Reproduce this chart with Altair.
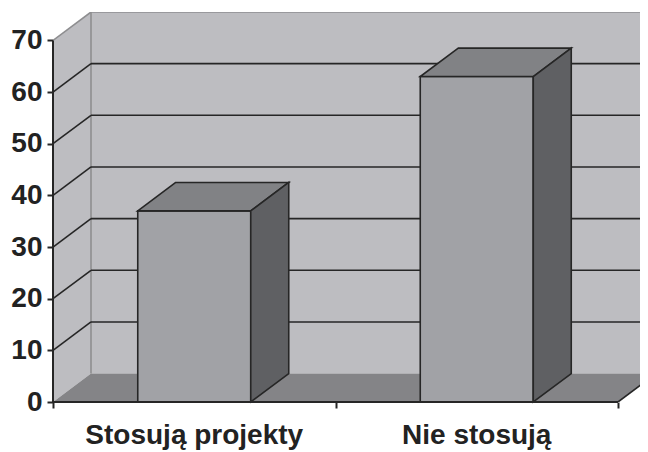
import altair as alt
import pandas as pd

# ---- data ----
categories = ["Stosują projekty", "Nie stosują"]
values = [37, 63]
y_ticks = [0, 10, 20, 30, 40, 50, 60, 70]

# ---- geometry (layout constants) ----
W, H = 587, 390
PX_PER_CAT = 282.5
DX = 38 / PX_PER_CAT          # depth offset in x units
DY = 5.5                      # depth offset in y units
YMAX = 70
XMAX = W / PX_PER_CAT
Y_TOP = YMAX + DY
BAR_L, BAR_R = 0.3, 0.7

WALL = "#bdbdc1"
FLOOR = "#848487"
FRONT = "#a1a2a6"
TOP = "#818285"
SIDE = "#5f6063"
EDGE = "#262626"
RIM = "#8e8e90"
FONT = "Liberation Sans"

xs = alt.Scale(domain=[0, XMAX], nice=False, zero=False)
ys = alt.Scale(domain=[0, Y_TOP], nice=False, zero=False)

X_AXIS = alt.Axis(values=[0, 1, 2], labels=False, domain=False, grid=False,
                  tickSize=6, tickColor=EDGE, tickWidth=2, title=None)
Y_AXIS = alt.Axis(values=y_ticks, domain=False, grid=False, tickSize=6,
                  tickColor=EDGE, tickWidth=2, title=None,
                  labelFont=FONT, labelFontSize=28, labelFontWeight="bold",
                  labelColor="#222222", labelPadding=5)

def X(f):
    return alt.X(f, type="quantitative", scale=xs, axis=X_AXIS, title=None)

def Y(f):
    return alt.Y(f, type="quantitative", scale=ys, axis=Y_AXIS, stack=None, title=None)

# back wall
back = alt.Chart(pd.DataFrame({"x": [DX], "x2": [XMAX + 1], "y": [DY], "y2": [Y_TOP]})).mark_rect(
    fill=WALL, clip=True).encode(x=X("x"), x2="x2", y=Y("y"), y2="y2")

# left wall
left = alt.Chart(pd.DataFrame({"x": [0, DX], "top": [YMAX, YMAX + DY], "bot": [0, DY]})).mark_area(
    fill=WALL).encode(x=X("x"), y=Y("top"), y2="bot")

grid_vals = [v for v in y_ticks if 0 < v < YMAX]
grid_df = pd.DataFrame({"x": [DX] * len(grid_vals), "x2": [XMAX + 1] * len(grid_vals),
                        "y": [v + DY for v in grid_vals]})
grid = alt.Chart(grid_df).mark_rule(color=EDGE, strokeWidth=1.6, clip=True).encode(
    x=X("x"), x2="x2", y=Y("y"))

diag_df = pd.DataFrame({"x": [0] * len(grid_vals), "x2": [DX] * len(grid_vals),
                        "y": grid_vals, "y2": [v + DY for v in grid_vals]})
diag = alt.Chart(diag_df).mark_rule(color=EDGE, strokeWidth=1.6).encode(
    x=X("x"), x2="x2", y=Y("y"), y2="y2")

# rim (top edges + inner corner)
rim_df = pd.DataFrame({"x": [0, DX, DX], "x2": [DX, XMAX + 1, DX],
                       "y": [YMAX, YMAX + DY, DY], "y2": [YMAX + DY, YMAX + DY, YMAX + DY]})
rim = alt.Chart(rim_df).mark_rule(color=RIM, strokeWidth=1.6, clip=True).encode(
    x=X("x"), x2="x2", y=Y("y"), y2="y2")

# floor
floor = alt.Chart(pd.DataFrame({"y": [0, DY], "xl": [0, DX], "xr": [2, 2 + DX]})).mark_area(
    fill=FLOOR, orient="horizontal", clip=True).encode(y=Y("y"), x=X("xl"), x2="xr")
floor_edge = alt.Chart(pd.DataFrame({"x": [2], "x2": [2 + DX], "y": [0], "y2": [DY]})).mark_rule(
    color=EDGE, strokeWidth=1.6, clip=True).encode(x=X("x"), x2="x2", y=Y("y"), y2="y2")

# bars
front_rows, top_rows, side_rows = [], [], []
for i, (c, v) in enumerate(zip(categories, values)):
    front_rows.append({"cat": c, "x": i + BAR_L, "x2": i + BAR_R, "y": 0, "y2": v})
    for t in (0, 1):
        top_rows.append({"cat": c, "y": v + DY * t, "xl": i + BAR_L + DX * t, "xr": i + BAR_R + DX * t})
        side_rows.append({"cat": c, "x": i + BAR_R + DX * t, "yt": v + DY * t, "yb": DY * t})

fronts = alt.Chart(pd.DataFrame(front_rows)).mark_rect(
    fill=FRONT, stroke=EDGE, strokeWidth=1.6).encode(x=X("x"), x2="x2", y=Y("y"), y2="y2")
tops = alt.Chart(pd.DataFrame(top_rows)).mark_area(
    fill=TOP, stroke=EDGE, strokeWidth=1.6, orient="horizontal", strokeJoin="miter").encode(
    y=Y("y"), x=X("xl"), x2="xr", detail="cat:N")
sides = alt.Chart(pd.DataFrame(side_rows)).mark_area(
    fill=SIDE, stroke=EDGE, strokeWidth=1.6, strokeJoin="miter").encode(
    x=X("x"), y=Y("yt"), y2="yb", detail="cat:N")

# axis lines
axis_df = pd.DataFrame({"x": [0, 0], "x2": [0, 2], "y": [0, 0], "y2": [YMAX, 0]})
axes = alt.Chart(axis_df).mark_rule(color=EDGE, strokeWidth=2).encode(
    x=X("x"), x2="x2", y=Y("y"), y2="y2")

labels = alt.Chart(pd.DataFrame({"x": [i + 0.5 for i in range(len(categories))], "label": categories})).mark_text(
    font=FONT, fontSize=28, fontWeight="bold", color="#222222", align="center", baseline="alphabetic"
).encode(x=X("x"), y=alt.value(H + 42), text="label:N")

chart = alt.layer(back, left, rim, grid, diag, floor, floor_edge, fronts, tops, sides, axes, labels).properties(
    width=W, height=H,
    autosize=alt.AutoSizeParams(type="none"),
    padding={"left": 45, "top": 4, "right": 0, "bottom": 50},
    background="white",
).configure_view(stroke=None)

chart.save("out.html", embed_options={"renderer": "svg", "actions": False})
